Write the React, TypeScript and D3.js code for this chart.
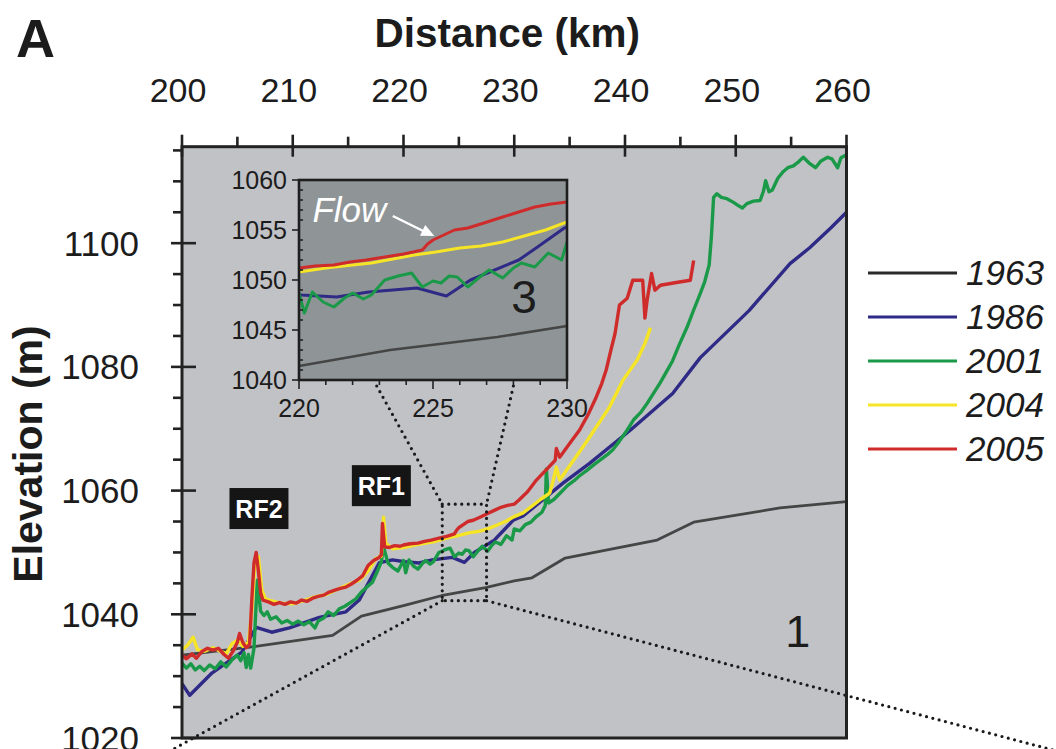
import React from "react";
import * as d3 from "d3";

type P = [number, number];

const years = ["1963", "1986", "2001", "2004", "2005"];
const colors = ["#454545", "#2e2a86", "#1a9a48", "#f6e427", "#cf2b2b"];

const xTickValues = [200, 210, 220, 230, 240, 250, 260];
const yTickValues = [1020, 1040, 1060, 1080, 1100];
const insetXTicks = [220, 225, 230];
const insetYTicks = [1040, 1045, 1050, 1055, 1060];

const profile1963: P[] = [
  [200, 1033.4], [205.8, 1034.6], [213.6, 1036.6], [216.2, 1039.7], [220, 1041.4],
  [223.4, 1043.0], [227.4, 1044.3], [230, 1045.4], [231.6, 1045.9], [234.6, 1049.1],
  [242.9, 1052.0], [246.2, 1054.9], [254.0, 1057.2], [260, 1058.2],
];

const profile1986: P[] = [
  [200, 1028.8], [200.7, 1026.9], [202.7, 1030.5], [205.4, 1033.9], [206.7, 1037.9],
  [208.1, 1037.1], [209.7, 1037.8], [212.4, 1039.5], [214.8, 1040.4], [216.0, 1042.3],
  [217.8, 1048.3], [219.0, 1048.8], [220.1, 1048.5], [221.4, 1048.3], [222.6, 1048.8],
  [224.4, 1049.2], [225.5, 1048.4], [226.4, 1050.0], [228.2, 1052.0], [228.9, 1053.3],
  [229.9, 1055.2], [230.8, 1055.9], [234.4, 1061.2], [236.8, 1064.4], [240.5, 1069.8],
  [244.3, 1075.7], [246.8, 1081.5], [251.2, 1089.1], [254.9, 1096.7], [256.7, 1099.3],
  [258.6, 1102.5], [260, 1105.0],
];

const profile2001: P[] = [
  [200, 1032.1], [200.4, 1031.3], [200.8, 1032.0], [201.2, 1031.0], [201.6, 1031.6],
  [202.0, 1030.9], [202.5, 1031.8], [203.0, 1031.2], [203.5, 1032.3], [204.0, 1031.5],
  [204.5, 1032.6], [205.0, 1033.4], [205.3, 1032.5], [205.6, 1033.8], [205.8, 1031.4],
  [206.0, 1033.5], [206.2, 1031.3], [206.5, 1034.5], [206.8, 1045.5], [207.1, 1040.5],
  [207.4, 1039.8], [207.7, 1040.4], [208.0, 1039.2], [208.5, 1039.6], [209.0, 1038.6],
  [209.5, 1039.0], [210.0, 1038.4], [210.5, 1038.9], [211.0, 1038.3], [211.5, 1038.8],
  [212.0, 1037.8], [212.3, 1038.9], [212.8, 1039.4], [213.2, 1040.4], [213.7, 1039.8],
  [214.2, 1040.9], [214.7, 1041.3], [215.2, 1041.9], [215.7, 1042.5], [216.2, 1043.6],
  [216.7, 1044.4], [217.2, 1045.2], [217.6, 1046.8], [218.0, 1048.5], [218.2, 1050.9],
  [218.6, 1048.3], [219.0, 1047.6], [219.5, 1047.0], [220.0, 1048.7], [220.2, 1046.7],
  [220.5, 1048.8], [220.9, 1047.8], [221.3, 1047.3], [221.7, 1048.2], [222.0, 1048.7],
  [222.4, 1048.1], [222.7, 1048.5], [223.0, 1049.4], [223.2, 1050.0], [223.7, 1050.4],
  [224.2, 1050.7], [224.6, 1049.3], [225.0, 1049.9], [225.3, 1049.7], [225.6, 1050.4],
  [225.9, 1050.3], [226.3, 1049.3], [226.7, 1050.2], [227.1, 1051.0], [227.6, 1050.2],
  [228.0, 1051.2], [228.3, 1051.7], [228.8, 1051.3], [229.3, 1052.7], [229.8, 1052.0],
  [230.0, 1053.8], [230.5, 1053.5], [231.0, 1054.5], [231.5, 1054.9], [232.0, 1055.8],
  [232.5, 1056.5], [232.8, 1057.6], [232.9, 1063.5], [233.1, 1058.0], [233.6, 1058.6],
  [234.2, 1059.7], [234.8, 1060.8], [235.4, 1061.6], [235.9, 1062.4], [236.5, 1063.2],
  [237.2, 1064.2], [237.8, 1065.0], [238.4, 1065.8], [238.9, 1066.6], [239.5, 1068.0],
  [240.2, 1069.8], [240.8, 1071.5], [241.4, 1072.6], [242.0, 1074.1], [242.6, 1075.8],
  [243.2, 1077.5], [243.8, 1079.4], [244.3, 1081.0], [244.9, 1083.6], [245.6, 1086.4],
  [246.2, 1089.2], [246.8, 1091.9], [247.2, 1093.8], [247.6, 1096.5], [247.8, 1101.0],
  [248.0, 1107.4], [248.3, 1108.0], [248.7, 1107.4], [249.2, 1107.2], [249.8, 1106.6],
  [250.3, 1106.0], [250.6, 1105.7], [251.0, 1106.4], [251.6, 1106.8], [252.2, 1106.9],
  [252.5, 1108.4], [252.7, 1110.1], [253.0, 1108.3], [253.3, 1108.6], [253.8, 1110.5],
  [254.3, 1111.6], [254.7, 1112.2], [255.2, 1112.5], [255.7, 1113.2], [256.1, 1113.9],
  [256.6, 1113.0], [257.2, 1112.2], [257.7, 1113.3], [258.3, 1113.9], [258.7, 1113.6],
  [259.2, 1112.2], [259.5, 1113.8], [260.0, 1114.3],
];

const profile2004: P[] = [
  [200, 1034.2], [200.5, 1035.0], [201.0, 1036.3], [201.4, 1034.3], [202.0, 1034.0],
  [202.8, 1034.6], [203.5, 1034.0], [204.0, 1033.6], [204.5, 1035.2], [205.0, 1035.8],
  [205.5, 1034.8], [206.0, 1035.5], [206.3, 1040.5], [206.6, 1048.5], [206.9, 1049.3],
  [207.2, 1044.0], [207.5, 1042.6], [208.0, 1042.2], [209.0, 1041.8], [210.0, 1041.7],
  [211.0, 1042.2], [212.0, 1042.8], [213.0, 1043.2], [214.0, 1044.0], [215.0, 1044.8],
  [216.0, 1045.5], [216.8, 1047.0], [217.5, 1049.0], [218.0, 1049.4], [218.2, 1055.7],
  [218.4, 1051.5], [219.0, 1050.6], [220.0, 1050.8], [221.0, 1051.2], [222.0, 1051.5],
  [222.7, 1051.7], [223.5, 1052.1], [224.3, 1052.5], [225.1, 1052.8], [226.0, 1053.2],
  [226.8, 1053.4], [227.6, 1053.8], [228.4, 1054.4], [229.2, 1055.0], [230.0, 1055.8],
  [230.8, 1056.4], [231.6, 1057.5], [232.4, 1058.6], [233.2, 1059.6], [233.5, 1061.5],
  [233.8, 1063.8], [234.1, 1061.7], [234.8, 1063.5], [235.6, 1065.5], [236.6, 1068.1],
  [237.6, 1070.8], [238.6, 1073.5], [239.3, 1076.0], [239.8, 1077.8], [240.5, 1079.6],
  [241.1, 1081.1], [241.8, 1083.8], [242.3, 1086.3],
];

const profile2005: P[] = [
  [200, 1033.4], [200.4, 1032.8], [200.9, 1033.6], [201.3, 1032.9], [201.8, 1034.0],
  [202.3, 1034.5], [202.8, 1034.2], [203.3, 1034.5], [203.8, 1033.5], [204.2, 1032.9],
  [204.6, 1034.0], [205.0, 1035.5], [205.2, 1036.9], [205.5, 1035.4], [205.8, 1034.6],
  [206.1, 1035.1], [206.3, 1042.3], [206.5, 1048.3], [206.7, 1050.0], [206.9, 1047.0],
  [207.1, 1043.5], [207.3, 1042.3], [207.8, 1042.0], [208.3, 1041.6], [208.8, 1041.9],
  [209.3, 1041.6], [209.8, 1042.0], [210.3, 1041.8], [210.8, 1042.3], [211.3, 1042.1],
  [211.8, 1042.6], [212.3, 1042.9], [212.8, 1043.1], [213.3, 1043.6], [213.8, 1043.9],
  [214.3, 1044.2], [214.8, 1044.4], [215.3, 1044.9], [215.8, 1045.5], [216.3, 1046.2],
  [216.8, 1047.9], [217.3, 1048.7], [217.8, 1049.2], [218.0, 1049.6], [218.1, 1054.7],
  [218.3, 1050.9], [218.7, 1050.8], [219.2, 1051.1], [219.7, 1051.0], [220.0, 1051.2],
  [220.6, 1051.4], [221.3, 1051.5], [221.9, 1051.8], [222.5, 1052.0], [223.2, 1052.3],
  [223.9, 1052.6], [224.6, 1053.0], [224.8, 1053.6], [225.0, 1054.0], [225.4, 1054.5],
  [225.8, 1055.0], [226.3, 1055.2], [226.9, 1055.7], [227.6, 1056.3], [228.2, 1056.8],
  [228.8, 1057.3], [229.4, 1057.6], [230.0, 1057.8], [230.5, 1058.6], [231.2, 1059.8],
  [232.0, 1061.7], [232.9, 1063.4], [233.7, 1064.9], [233.8, 1066.8], [234.1, 1065.4],
  [235.0, 1067.6], [235.9, 1069.8], [236.7, 1072.4], [237.4, 1075.1], [237.9, 1077.3],
  [238.3, 1079.5], [238.7, 1082.5], [239.1, 1085.4], [239.5, 1090.0], [240.2, 1091.1],
  [240.7, 1094.0], [241.6, 1094.0], [241.8, 1087.9], [242.0, 1090.8], [242.4, 1095.1],
  [242.7, 1092.4], [243.2, 1093.2], [244.5, 1093.6], [245.9, 1094.0], [246.2, 1097.2],
];

const profiles: P[][] = [profile1963, profile1986, profile2001, profile2004, profile2005];

// annotation anchors (data units)
const zoomBox = { x0: 223.5, x1: 227.5, y0: 1042.2, y1: 1057.8 };
const insetConnectX = [222.9, 228.0];
const farLeft: P = [198.5, 1017.5];
const farRight: P = [279.0, 1017.9];
const rfLabels = [
  { text: "RF2", km: 206.95, m: 1057.1 },
  { text: "RF1", km: 218.0, m: 1060.8 },
];

const FONT = "'Liberation Sans', Arial, Helvetica, sans-serif";
const INK = "#1c1c1c";

export default function App() {
  const W = 1056, H = 749;
  const x = d3.scaleLinear().domain([200, 260]).range([182, 846.5]);
  const y = d3.scaleLinear().domain([1020, 1115.6]).range([738, 146.7]);
  const ix = d3.scaleLinear().domain([220, 230]).range([299, 567]);
  const iy = d3.scaleLinear().domain([1040, 1060]).range([380, 180]);

  const line = d3.line<P>().x((d) => x(d[0])).y((d) => y(d[1]));
  const iline = d3.line<P>().x((d) => ix(d[0])).y((d) => iy(d[1]));

  const [X0, X1] = x.range();
  const [Y0, Y1] = y.range();
  const [IX0, IX1] = ix.range();
  const [IY0, IY1] = iy.range();

  const xMinor = d3.range(205, 260, 10);
  const yMinor = d3.range(1025, 1116, 5).filter((v) => v % 20 !== 0);
  const ixMinor = d3.range(221, 230, 1).filter((v) => v !== 225);
  const iyMinor = d3.range(1041, 1060, 1).filter((v) => v % 5 !== 0);

  const dotted = { stroke: "#1a1a1a", strokeWidth: 3.2, strokeDasharray: "0 6.5", strokeLinecap: "round" as const, fill: "none" };

  return (
    <svg width={W} height={H} style={{ position: "absolute", left: 0, top: 0, background: "#fff" }} fontFamily={FONT}>
      <defs>
        <clipPath id="mainClip"><rect x={X0} y={Y1} width={X1 - X0} height={Y0 - Y1} /></clipPath>
        <clipPath id="insetClip"><rect x={IX0} y={IY1} width={IX1 - IX0} height={IY0 - IY1} /></clipPath>
      </defs>

      {/* panel label & titles */}
      <text x={16} y={57} fontSize={54} fontWeight="bold" fill={INK}>A</text>
      <text x={(X0 + X1) / 2 - 7} y={47} fontSize={40.5} fontWeight="bold" textAnchor="middle" fill={INK}>Distance (km)</text>
      <text transform={`translate(42,454) rotate(-90)`} fontSize={41} fontWeight="bold" textAnchor="middle" fill={INK}>Elevation (m)</text>

      {/* plot background */}
      <rect x={X0} y={Y1} width={X1 - X0} height={Y0 - Y1} fill="#c1c2c6" />

      {/* main profiles */}
      <g clipPath="url(#mainClip)" fill="none" strokeLinejoin="round">
        {profiles.map((p, i) => (
          <path key={years[i]} d={line(p) || ""} stroke={colors[i]} strokeWidth={i === 0 ? 2.8 : 3.4} />
        ))}
      </g>

      {/* dotted zoom box and connectors */}
      <rect x={x(zoomBox.x0)} y={y(zoomBox.y1)} width={x(zoomBox.x1) - x(zoomBox.x0)} height={y(zoomBox.y0) - y(zoomBox.y1)} {...dotted} />
      <line x1={ix(insetConnectX[0])} y1={IY0 + 6} x2={x(zoomBox.x0)} y2={y(zoomBox.y1)} {...dotted} />
      <line x1={ix(insetConnectX[1])} y1={IY0 + 6} x2={x(zoomBox.x1)} y2={y(zoomBox.y1)} {...dotted} />
      <line x1={x(zoomBox.x0)} y1={y(zoomBox.y0)} x2={x(farLeft[0])} y2={y(farLeft[1])} {...dotted} />
      <line x1={x(zoomBox.x1)} y1={y(zoomBox.y0)} x2={x(farRight[0])} y2={y(farRight[1])} {...dotted} />

      {/* RF labels */}
      {rfLabels.map((r) => (
        <g key={r.text} transform={`translate(${x(r.km)},${y(r.m)})`}>
          <rect x={-29.5} y={-20.5} width={59} height={41} fill="#151515" />
          <text x={0} y={9} fontSize={25} fontWeight="bold" fill="#fff" textAnchor="middle">{r.text}</text>
        </g>
      ))}

      <text x={x(255.6)} y={y(1034.7)} fontSize={45} textAnchor="middle" fill={INK}>1</text>

      {/* main frame */}
      <rect x={X0} y={Y1} width={X1 - X0} height={Y0 - Y1} fill="none" stroke="#222" strokeWidth={3} />

      {/* axes ticks */}
      <g stroke="#222" strokeWidth={2.6}>
        {xTickValues.map((v) => (
          <line key={"xt" + v} x1={x(v)} x2={x(v)} y1={Y1 - 12} y2={Y1 + 10} />
        ))}
        {xMinor.map((v) => (
          <line key={"xm" + v} x1={x(v)} x2={x(v)} y1={Y1 - 10} y2={Y1} />
        ))}
        {yTickValues.map((v) => (
          <line key={"yt" + v} x1={X0 - 11} x2={X0 + 14} y1={y(v)} y2={y(v)} />
        ))}
        {yMinor.map((v) => (
          <line key={"ym" + v} x1={X0 - 9} x2={X0} y1={y(v)} y2={y(v)} />
        ))}
      </g>
      {xTickValues.map((v) => (
        <text key={"xl" + v} x={x(v) - 4} y={102} fontSize={34} textAnchor="middle" fill={INK}>{v}</text>
      ))}
      {yTickValues.map((v) => (
        <text key={"yl" + v} x={139} y={y(v) + 12.5} fontSize={35} textAnchor="end" fill={INK}>{v}</text>
      ))}

      {/* inset */}
      <rect x={IX0} y={IY1} width={IX1 - IX0} height={IY0 - IY1} fill="#8f9597" />
      <g clipPath="url(#insetClip)" fill="none" strokeLinejoin="round">
        {profiles.map((p, i) => (
          <path key={"i" + years[i]} d={iline(p) || ""} stroke={colors[i]} strokeWidth={i === 0 ? 2.6 : 3} />
        ))}
      </g>
      <rect x={IX0} y={IY1} width={IX1 - IX0} height={IY0 - IY1} fill="none" stroke="#1e1e1e" strokeWidth={2.6} />
      <g stroke="#222" strokeWidth={1.6}>
        {insetXTicks.map((v) => (
          <line key={"ixt" + v} x1={ix(v)} x2={ix(v)} y1={IY0} y2={IY0 + 9} />
        ))}
        {ixMinor.map((v) => (
          <line key={"ixm" + v} x1={ix(v)} x2={ix(v)} y1={IY0} y2={IY0 + 5} />
        ))}
        {insetYTicks.map((v) => (
          <line key={"iyt" + v} x1={IX0 - 7} x2={IX0} y1={iy(v)} y2={iy(v)} />
        ))}
        {iyMinor.map((v) => (
          <line key={"iym" + v} x1={IX0} x2={IX0 + 4} y1={iy(v)} y2={iy(v)} />
        ))}
      </g>
      {insetXTicks.map((v) => (
        <text key={"ixl" + v} x={ix(v)} y={IY0 + 37} fontSize={25} textAnchor="middle" fill={INK}>{v}</text>
      ))}
      {insetYTicks.map((v) => (
        <text key={"iyl" + v} x={IX0 - 12} y={iy(v) + 9} fontSize={25} textAnchor="end" fill={INK}>{v}</text>
      ))}
      <text x={ix(228.4)} y={iy(1046.7)} fontSize={46} textAnchor="middle" fill={INK}>3</text>
      <text x={ix(220.5)} y={iy(1055.8)} fontSize={35} fontStyle="italic" fill="#fff">Flow</text>
      <line x1={ix(223.5)} y1={iy(1056.4)} x2={ix(224.75)} y2={iy(1054.75)} stroke="#fff" strokeWidth={2.5} />
      <path
        d={(() => {
          const tx = ix(225.05), ty = iy(1054.4);
          const ang = Math.atan2(ty - iy(1056.4), tx - ix(223.5));
          const L = 13, Wd = 6;
          const bx = tx - L * Math.cos(ang), by = ty - L * Math.sin(ang);
          const px = -Math.sin(ang) * Wd, py = Math.cos(ang) * Wd;
          return `M${tx},${ty}L${bx + px},${by + py}L${bx - px},${by - py}Z`;
        })()}
        fill="#fff"
      />

      {/* legend */}
      {years.map((yr, i) => (
        <g key={"lg" + yr} transform={`translate(0,${273 + i * 44})`}>
          <line x1={868} x2={957} y1={0} y2={0} stroke={i === 0 ? "#2a2a2a" : colors[i]} strokeWidth={3} />
          <text x={966} y={12} fontSize={35} fontStyle="italic" fill={INK}>{yr}</text>
        </g>
      ))}
    </svg>
  );
}
